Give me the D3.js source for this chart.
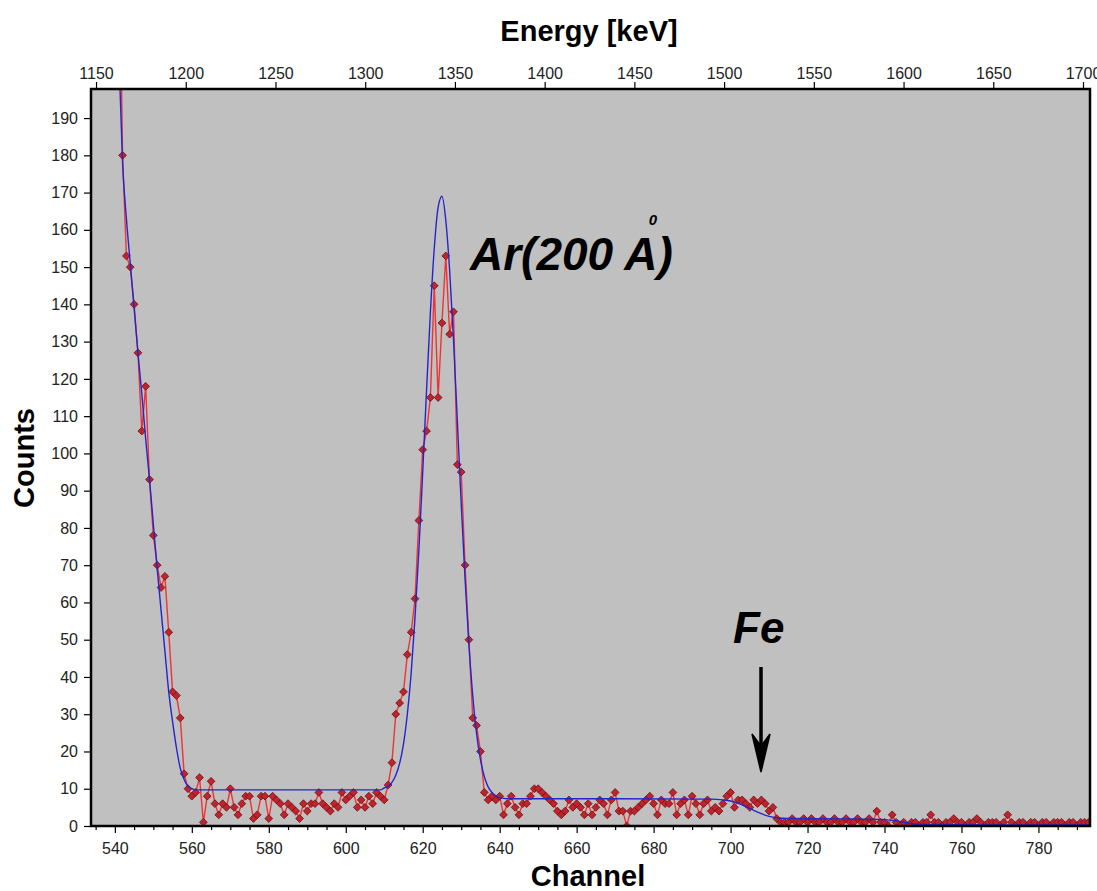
<!DOCTYPE html>
<html>
<head>
<meta charset="utf-8">
<script src="https://cdn.jsdelivr.net/npm/d3@7"></script>
<style>
  body { margin: 0; background: #fff; }
  text { font-family: "Liberation Sans", Arial, sans-serif; }
</style>
</head>
<body>
<div id="spectrum"></div>
<script>
// measured spectrum: one value per channel, first channel = 541
const firstChannel = 541
const counts = [
  250, 180, 153, 150, 140, 127, 106, 118, 93, 78,      // 541-550
  70, 64, 67, 52, 36, 35, 29, 14, 10, 8,               // 551-560
  9, 13, 1, 8, 12, 6, 3, 6, 5, 10,                     // 561-570
  5, 3, 6, 8, 8, 2, 3, 8, 8, 2,                        // 571-580
  8, 7, 6, 3, 6, 5, 4, 2, 6, 4,                        // 581-590
  6, 6, 9, 6, 5, 4, 6, 5, 9, 7,                        // 591-600
  8, 9, 5, 7, 5, 8, 6, 9, 8, 7,                        // 601-610
  11, 17, 30, 33, 36, 46, 52, 61, 82, 101,             // 611-620
  106, 115, 145, 115, 135, 153, 132, 138, 97, 95,      // 621-630
  70, 50, 29, 27, 20, 9, 7, 8, 7, 8,                   // 631-640
  3, 6, 8, 5, 3, 6, 6, 8, 10, 10,                      // 641-650
  9, 8, 7, 6, 4, 3, 4, 7, 5, 6,                        // 651-660
  5, 3, 6, 3, 5, 7, 6, 3, 7, 9,                        // 661-670
  4, 4, 0, 4, 4, 5, 6, 7, 8, 6,                        // 671-680
  3, 7, 6, 6, 9, 3, 6, 7, 3, 8,                        // 681-690
  6, 3, 6, 7, 4, 5, 4, 6, 8, 9,                        // 691-700
  5, 7, 7, 6, 5, 7, 6, 7, 6, 4,                        // 701-710
  5, 2, 1, 1, 1, 2, 1, 1, 2, 1,                        // 711-720
  2, 1, 1, 2, 1, 1, 2, 1, 1, 2,                        // 721-730
  1, 1, 2, 1, 1, 2, 1, 4, 1, 1,                        // 731-740
  0, 3, 1, 0, 1, 0, 1, 1, 0, 1,                        // 741-750
  1, 3, 1, 1, 0, 1, 1, 2, 1, 1,                        // 751-760
  0, 1, 1, 2, 1, 0, 1, 1, 1, 0,                        // 761-770
  1, 3, 1, 0, 1, 1, 0, 1, 1, 0,                        // 771-780
  1, 1, 0, 1, 1, 1, 0, 1, 1, 0,                        // 781-790
  1, 1, 1                                              // 791-793
]

// fitted curve (blue)
const fitChannels = [
  541, 542, 543, 544, 545, 546, 547, 548, 549, 550,
  551, 552, 553, 554, 555, 556, 557, 558, 559, 560,
  561, 580, 609, 610, 611, 612, 613, 614, 615, 616,
  617, 618, 619, 620, 621, 622, 623, 624, 625, 626,
  627, 628, 629, 630, 631, 632, 633, 634, 635, 636,
  637, 638, 639, 640, 642, 670, 695, 698, 700, 702,
  704, 706, 708, 710, 712, 715, 730, 740, 743, 745,
  747, 750, 770, 794
]
const fitCounts = [
  208, 178, 163, 151, 139, 127, 116, 104, 93, 81,
  69, 58, 47, 36, 28, 21, 15.5, 12.5, 10.7, 10,
  9.7, 9.7, 9.7, 10.2, 10.7, 11.7, 13.6, 16.8, 22, 30,
  41, 56, 74, 95, 117, 138, 155, 166, 169, 162.5,
  149, 130.5, 108.6, 86.6, 66.3, 48.8, 35, 24.8, 17.8, 13.3,
  10.5, 9, 8.1, 7.6, 7.3, 7.3, 7.2, 7.0, 6.7, 6.1,
  5.2, 4.2, 3.3, 2.6, 2.2, 2.0, 1.9, 1.7, 1.4, 1.0,
  0.6, 0.4, 0.3, 0.3
]

// axis ticks
const channelTicks = [540, 560, 580, 600, 620, 640, 660, 680, 700, 720, 740, 760, 780]
const energyTicks = [1150, 1200, 1250, 1300, 1350, 1400, 1450, 1500, 1550, 1600, 1650, 1700]
const countTicks = [0, 10, 20, 30, 40, 50, 60, 70, 80, 90, 100, 110, 120, 130, 140, 150, 160, 170, 180, 190]

const data = counts.map((c, i) => ({ch: firstChannel + i, v: c}))
const fit = fitChannels.map((c, i) => ({ch: c, v: fitCounts[i]}))

// plot area
var plot = {left: 91, top: 89, right: 1090, bottom: 826}

var svg = d3.select("#spectrum")
  .append("svg")
    .attr("width", 1097)
    .attr("height", 891)

const x = d3.scaleLinear().domain([533.8, 793.4]).range([plot.left, plot.right])
const y = d3.scaleLinear().domain([0, 197.8]).range([plot.bottom, plot.top])
const energy = d3.scaleLinear().domain([1147.2, 1703.9]).range([plot.left, plot.right])

svg.append("defs").append("clipPath")
    .attr("id", "clip")
  .append("rect")
    .attr("x", plot.left)
    .attr("y", plot.top)
    .attr("width", plot.right - plot.left)
    .attr("height", plot.bottom - plot.top)

// grey background
svg.append("rect")
  .attr("x", plot.left)
  .attr("y", plot.top)
  .attr("width", plot.right - plot.left)
  .attr("height", plot.bottom - plot.top)
  .attr("fill", "#c0c0c0")

// axes
function styleAxis(g) {
  g.select(".domain").remove()
  g.selectAll(".tick line").attr("stroke", "#000").attr("stroke-width", 1.2)
  g.selectAll(".tick text")
    .attr("fill", "#222")
    .style("font-size", "16px")
    .style("font-family", "'Liberation Sans', Arial, sans-serif")
}

svg.append("g")
  .attr("transform", `translate(${plot.left},0)`)
  .call(d3.axisLeft(y).tickValues(countTicks).tickSize(7).tickPadding(6))
  .call(styleAxis)

svg.append("g")
  .attr("transform", `translate(0,${plot.bottom})`)
  .call(d3.axisBottom(x).tickValues(channelTicks).tickSize(7).tickPadding(10).tickFormat(d3.format("d")))
  .call(styleAxis)

// minor ticks every 5 channels
const minorTicks = d3.range(535, 794, 5).filter(d => d % 20 != 0)
svg.append("g")
  .attr("transform", `translate(0,${plot.bottom})`)
  .call(d3.axisBottom(x).tickValues(minorTicks).tickSize(4).tickFormat(""))
  .call(styleAxis)

svg.append("g")
  .attr("transform", `translate(0,${plot.top})`)
  .call(d3.axisTop(energy).tickValues(energyTicks).tickSize(7).tickPadding(3).tickFormat(d3.format("d")))
  .call(styleAxis)

// data
const area = svg.append("g").attr("clip-path", "url(#clip)")

area.append("path")
  .datum(data)
  .attr("fill", "none")
  .attr("stroke", "#ee3333")
  .attr("stroke-width", 1.4)
  .attr("d", d3.line().x(d => x(d.ch)).y(d => y(d.v)))

const diamond = d3.symbol().type(d3.symbolSquare).size(30)
area.selectAll(".pt")
  .data(data)
  .join("path")
    .attr("class", "pt")
    .attr("d", diamond)
    .attr("transform", d => `translate(${x(d.ch)},${y(d.v)}) rotate(45)`)
    .attr("fill", "#c0232b")
    .attr("stroke", "#701218")
    .attr("stroke-width", 0.8)

area.append("path")
  .datum(fit)
  .attr("fill", "none")
  .attr("stroke", "#2424cc")
  .attr("stroke-width", 1.4)
  .attr("d", d3.line().curve(d3.curveMonotoneX).x(d => x(d.ch)).y(d => y(d.v)))

// frame
svg.append("rect")
  .attr("x", plot.left)
  .attr("y", plot.top)
  .attr("width", plot.right - plot.left)
  .attr("height", plot.bottom - plot.top)
  .attr("fill", "none")
  .attr("stroke", "#000")
  .attr("stroke-width", 2.5)

// titles
svg.append("text")
  .attr("x", 589).attr("y", 41)
  .attr("text-anchor", "middle")
  .style("font-size", "29px").style("font-weight", "bold")
  .text("Energy [keV]")

svg.append("text")
  .attr("x", 588).attr("y", 886)
  .attr("text-anchor", "middle")
  .style("font-size", "29px").style("font-weight", "bold")
  .text("Channel")

svg.append("text")
  .attr("transform", "translate(34,458) rotate(-90)")
  .attr("text-anchor", "middle")
  .style("font-size", "29px").style("font-weight", "bold")
  .text("Counts")

// annotations
svg.append("text")
  .attr("x", 470).attr("y", 270)
  .style("font-size", "46px").style("font-weight", "bold").style("font-style", "italic")
  .text("Ar(200 A)")

svg.append("text")
  .attr("x", 653).attr("y", 225)
  .attr("text-anchor", "middle")
  .style("font-size", "15px").style("font-weight", "bold").style("font-style", "italic")
  .text("0")

svg.append("text")
  .attr("x", 733).attr("y", 643)
  .style("font-size", "44px").style("font-weight", "bold").style("font-style", "italic")
  .text("Fe")

svg.append("line")
  .attr("x1", 761).attr("y1", 667)
  .attr("x2", 761).attr("y2", 750)
  .attr("stroke", "#000")
  .attr("stroke-width", 3.5)

svg.append("path")
  .attr("d", "M752,734 L761,772 L770,734 L761,746 Z")
  .attr("fill", "#000")
  .attr("stroke", "#000")
  .attr("stroke-width", 1.5)
</script>
</body>
</html>
